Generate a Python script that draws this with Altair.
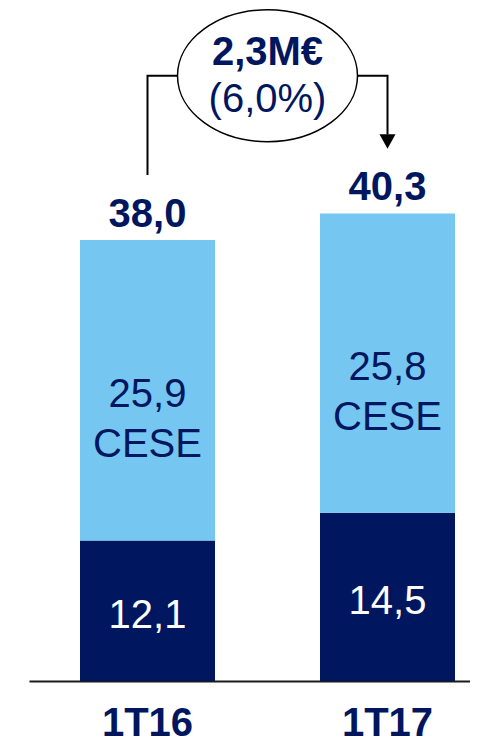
import altair as alt
import pandas as pd

# ---- data ----
categories = ["1T16", "1T17"]
base_values = [12.1, 14.5]
cese_values = [25.9, 25.8]
totals = [38.0, 40.3]
base_labels = ["12,1", "14,5"]
cese_labels = ["25,9", "25,8"]
total_labels = ["38,0", "40,3"]
cese_name = "CESE"
change_label = "2,3M€"
change_pct_label = "(6,0%)"

# ---- style ----
NAVY = "#00165F"
LIGHT = "#75C6F1"
FONT = "Liberation Sans"
FS = 40
GAP = 5.6          # value-units gap between bar total and connector
LEVEL = 52.16      # value-units height of connector / ellipse centre

seg_rows = []
for i, c in enumerate(categories):
    b, s = base_values[i], cese_values[i]
    seg_rows.append({"cat": c, "y0": 0.0, "y1": b, "mid": b / 2, "fill": NAVY,
                     "txtcolor": "white", "label": [base_labels[i]]})
    seg_rows.append({"cat": c, "y0": b, "y1": b + s, "mid": b + s / 2, "fill": LIGHT,
                     "txtcolor": NAVY, "label": [cese_labels[i], cese_name]})
seg_df = pd.DataFrame(seg_rows)
tot_df = pd.DataFrame({"cat": categories, "total": totals, "label": total_labels})


def band_scale():
    return alt.Scale(type="band", domain=categories, range=[21, 462], paddingInner=0.4375,
                     paddingOuter=0.1375, align=0.7727)


xband = alt.X("cat:N", sort=categories, title=None, scale=band_scale(),
              axis=alt.Axis(labelFont=FONT, labelFontSize=FS, labelFontWeight="bold",
                            labelColor=NAVY, labelBaseline="alphabetic", labelPadding=54,
                            ticks=False, tickSize=0, labelAngle=0,
                            domainColor="#1a1a1a", domainWidth=2))
xband_noaxis = alt.X("cat:N", sort=categories, title=None, scale=band_scale(), axis=None,
                     bandPosition=0.5)
yscale = alt.Scale(domain=[0, 58.0], nice=False, zero=True)

bars = alt.Chart(seg_df).mark_bar(strokeWidth=0).encode(
    x=xband,
    y=alt.Y("y0:Q", scale=yscale, axis=None),
    y2="y1:Q",
    color=alt.Color("fill:N", scale=None),
)
seg_text = alt.Chart(seg_df).mark_text(font=FONT, fontSize=FS, baseline="middle",
                                       lineHeight=50, dy=5).encode(
    x=xband_noaxis,
    y=alt.Y("mid:Q"),
    text="label",
    color=alt.Color("txtcolor:N", scale=None),
)
tot_text = alt.Chart(tot_df).mark_text(font=FONT, fontSize=FS, fontWeight="bold",
                                       baseline="alphabetic", dy=-13, color=NAVY).encode(
    x=xband_noaxis,
    y=alt.Y("total:Q"),
    text="label:N",
)

# ---- annotation (index scale: 0 = first bar centre, 1 = second) ----
def idx_x():
    return alt.X("i:Q", scale=alt.Scale(domain=[0, 1], range=[139.5, 379.5],
                                        nice=False, zero=False), axis=None)


ARROW_UNITS = 1.2
conn_df = pd.DataFrame({
    "i": [0, 0, 1, 1],
    "v": [totals[0] + GAP, LEVEL, LEVEL, totals[1] + GAP + ARROW_UNITS],
    "o": [0, 1, 2, 3],
})
connector = alt.Chart(conn_df).mark_line(color="black", strokeWidth=2).encode(
    x=idx_x(),
    y=alt.Y("v:Q"),
    order="o:Q",
)
arrow_df = pd.DataFrame({"i": [1], "v": [totals[1] + GAP + ARROW_UNITS / 2]})
arrow = alt.Chart(arrow_df).mark_point(
    shape="M -1 -0.9 L 1 -0.9 L 0 0.9 Z", size=256, filled=True,
    fill="black", opacity=1).encode(
    x=idx_x(),
    y=alt.Y("v:Q"),
)
ell_df = pd.DataFrame({"i": [0.5], "v": [LEVEL], "t1": [change_label], "t2": [change_pct_label]})
ellipse_path = ("M -1 0 C -1 -0.405 -0.552 -0.733 0 -0.733 "
                "C 0.552 -0.733 1 -0.405 1 0 C 1 0.405 0.552 0.733 0 0.733 "
                "C -0.552 0.733 -1 0.405 -1 0 Z")
ellipse = alt.Chart(ell_df).mark_point(
    shape=ellipse_path, size=32400, filled=True, fill="white",
    stroke="black", strokeWidth=1.5, opacity=1).encode(
    x=idx_x(),
    y=alt.Y("v:Q"),
)
ell_t1 = alt.Chart(ell_df).mark_text(font=FONT, fontSize=FS, fontWeight="bold",
                                     baseline="alphabetic", dy=-11, color=NAVY).encode(
    x=idx_x(), y="v:Q", text="t1:N")
ell_t2 = alt.Chart(ell_df).mark_text(font=FONT, fontSize=FS,
                                     baseline="alphabetic", dy=36, color=NAVY).encode(
    x=idx_x(), y="v:Q", text="t2:N")

chart = alt.layer(bars, seg_text, tot_text, connector, arrow, ellipse, ell_t1, ell_t2).resolve_scale(
    x="independent"
).properties(
    width=462, height=673,
    padding={"left": 0, "top": 0, "right": 0, "bottom": 62},
    autosize=alt.AutoSizeParams(type="none"),
).configure_view(stroke=None)

chart.save("out.html", embed_options={"renderer": "svg", "actions": False})
